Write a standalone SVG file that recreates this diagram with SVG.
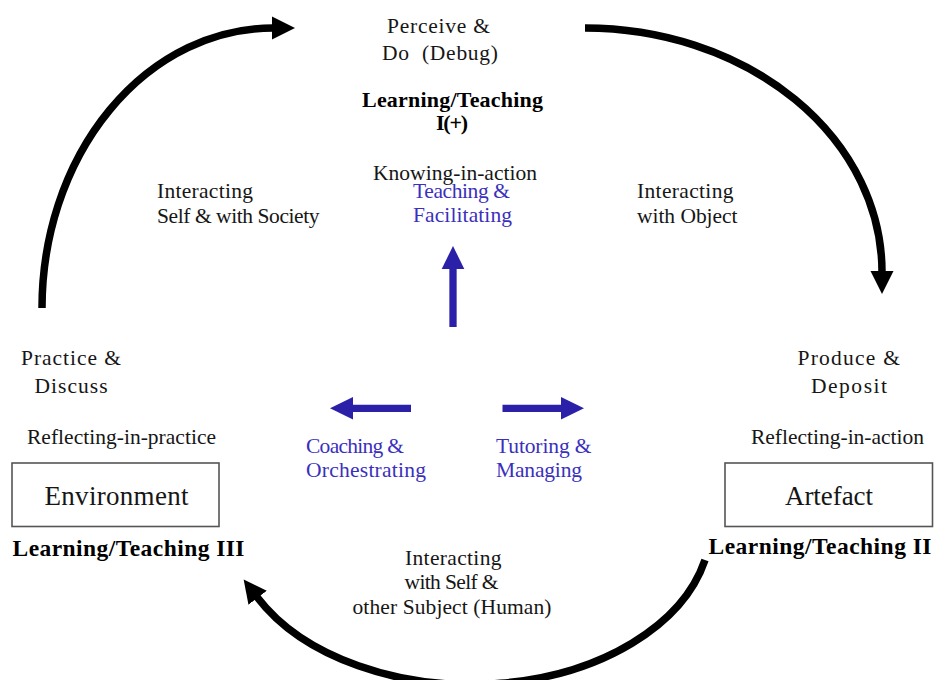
<svg xmlns="http://www.w3.org/2000/svg" width="935" height="680" viewBox="0 0 935 680">
<style>
.t{font-family:"Liberation Serif","Times New Roman",serif;font-size:21.5px;fill:#161616}
.b{font-weight:bold;font-size:23.5px;fill:#000}
.blue{fill:#3a30bd}
.big{font-size:27px}
.arc{fill:none;stroke:#000;stroke-width:7.5}
.barrow{fill:none;stroke:#2a21a8;stroke-width:7.3}
.box{fill:#fff;stroke:#555;stroke-width:1.6}
</style>
<defs>
<marker id="ah" markerUnits="userSpaceOnUse" viewBox="0 -12 24 24" markerWidth="24" markerHeight="24" refX="1" refY="0" orient="auto"><path d="M0,-11.5 L23,0 L0,11.5 z" fill="#000"/></marker>
<marker id="bh" markerUnits="userSpaceOnUse" viewBox="0 -12 24 24" markerWidth="24" markerHeight="24" refX="1" refY="0" orient="auto"><path d="M0,-11.3 L23,0 L0,11.3 z" fill="#2a21a8"/></marker>
</defs>
<rect width="935" height="680" fill="#fff"/>
<g id="connectors">
<path class="arc" d="M42,308 A231,280 0 0 1 273,28" marker-end="url(#ah)"/>
<path class="arc" d="M585,28 A297,244 0 0 1 882,272" marker-end="url(#ah)"/>
<path class="arc" d="M705,560 A240,160 0 0 1 257,597" marker-end="url(#ah)"/>
<path class="barrow" d="M453,327 L453,268" marker-end="url(#bh)"/>
<path class="barrow" d="M411,408.3 L352,408.3" marker-end="url(#bh)"/>
<path class="barrow" d="M502.5,408.3 L562,408.3" marker-end="url(#bh)"/>
</g>
<g id="node-perceive">
<text class="t" x="387" y="32.5" textLength="103">Perceive &amp;</text>
<text class="t" x="382" y="60" textLength="116" xml:space="preserve">Do  (Debug)</text>
</g>
<g id="node-lt1">
<text class="t b" x="362" y="106.5" textLength="181" style="font-size:22px">Learning/Teaching</text>
<text class="t b" x="436" y="130" textLength="32" style="font-size:22px">I(+)</text>
</g>
<g id="node-knowing">
<text class="t" x="373" y="180" textLength="164">Knowing-in-action</text>
</g>
<g id="node-teaching">
<text class="t blue" x="413" y="198" textLength="97">Teaching &amp;</text>
<text class="t blue" x="413" y="222" textLength="99">Facilitating</text>
</g>
<g id="node-society">
<text class="t" x="157" y="197.5" textLength="96">Interacting</text>
<text class="t" x="157" y="222.5" textLength="162.5">Self &amp; with Society</text>
</g>
<g id="node-object">
<text class="t" x="637" y="198" textLength="96.5">Interacting</text>
<text class="t" x="637" y="222.5" textLength="100.5">with Object</text>
</g>
<g id="node-practice">
<text class="t" x="21" y="364.5" textLength="100">Practice &amp;</text>
<text class="t" x="34.5" y="392.5" textLength="73">Discuss</text>
<text class="t" x="27" y="443.5" textLength="189">Reflecting-in-practice</text>
</g>
<g id="node-produce">
<text class="t" x="797.5" y="365" textLength="102.5">Produce &amp;</text>
<text class="t" x="811" y="392.5" textLength="76">Deposit</text>
<text class="t" x="751" y="443.5" textLength="173">Reflecting-in-action</text>
</g>
<g id="node-environment">
<rect class="box" x="12" y="463" width="207" height="63.5"/>
<text class="t big" x="44.5" y="505" textLength="144">Environment</text>
<text class="t b" x="12.5" y="556" textLength="232">Learning/Teaching III</text>
</g>
<g id="node-artefact">
<rect class="box" x="725" y="463" width="207.5" height="63.5"/>
<text class="t big" x="785" y="504.5" textLength="88">Artefact</text>
<text class="t b" x="708.5" y="553.5" textLength="223">Learning/Teaching II</text>
</g>
<g id="node-coaching">
<text class="t blue" x="306" y="452.5" textLength="98">Coaching &amp;</text>
<text class="t blue" x="306" y="476.5" textLength="120">Orchestrating</text>
</g>
<g id="node-tutoring">
<text class="t blue" x="496" y="452.5" textLength="95.5">Tutoring &amp;</text>
<text class="t blue" x="496" y="476.5" textLength="86">Managing</text>
</g>
<g id="node-human">
<text class="t" x="405" y="565" textLength="96.5">Interacting</text>
<text class="t" x="404.5" y="589" textLength="94">with Self &amp;</text>
<text class="t" x="352.5" y="614" textLength="199">other Subject (Human)</text>
</g>
</svg>
